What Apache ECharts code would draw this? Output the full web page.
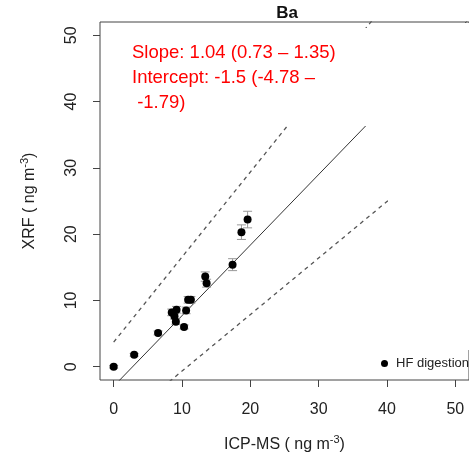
<!DOCTYPE html>
<html>
<head>
<meta charset="utf-8">
<script src="https://cdn.jsdelivr.net/npm/echarts@6/dist/echarts.min.js"></script>
<style>html,body{margin:0;padding:0;background:#fff;}#c{width:469px;height:459px;}</style>
</head>
<body>
<div id="c"></div>
<script>
// ---- data ----
const xTicks = [0, 10, 20, 30, 40, 50];
const yTicks = [0, 10, 20, 30, 40, 50];
const icpms = [0.0, 3.0, 6.5, 8.5, 9.2, 8.9, 9.1, 10.3, 10.6, 10.9, 11.3, 13.4, 13.6, 17.4, 18.7, 19.6];
const xrf   = [0.0, 1.8, 5.1, 8.2, 8.6, 7.6, 6.8, 6.0, 8.5, 10.1, 10.1, 13.6, 12.6, 15.4, 20.3, 22.2];
const xrfErr= [0.2, 0.2, 0.3, 0.5, 0.5, 0.4, 0.4, 0.3, 0.5, 0.5, 0.5, 0.7, 0.6, 0.9, 1.1, 1.25];
const fitLine   = [1.065, -2.95];   // slope, intercept (solid)
const upperBand = [1.283, 3.71];    // dashed
const lowerBand = [0.853, -9.19];   // dashed
const lineX = [0, 52];
const annotation = ['Slope: 1.04 (0.73 \u2013 1.35)', 'Intercept: -1.5 (-4.78 \u2013', ' -1.79)'];

const FONT = '"Liberation Sans", Arial, sans-serif';
function lineData(p){ return lineX.map(x => [x, p[0]*x + p[1]]); }

const chart = echarts.init(document.getElementById('c'), null, {renderer:'canvas'});
const option = {
  animation: false,
  backgroundColor: '#fff',
  title: {
    text: 'Ba', left: 287, top: 5, textAlign: 'center', padding: 0,
    textStyle: {fontSize: 17, fontWeight: 'bold', color: '#111', fontFamily: FONT}
  },
  legend: {
    data: ['HF digestion'], left: 381, top: 357, icon: 'circle',
    itemWidth: 7, itemHeight: 7, itemGap: 4, selectedMode: false, padding: 0,
    textStyle: {fontSize: 13, color: '#222', fontFamily: FONT, padding: [0,0,0,3]}
  },
  grid: {left: 100, top: 22, bottom: 79, right: -7, show: true, borderColor: '#444', borderWidth: 1, containLabel: false},
  xAxis: {
    type: 'value', min: -2, max: 52,
    name: 'ICP-MS ( ng m{sup|-3})', nameLocation: 'middle', nameGap: 54,
    nameTextStyle: {fontSize: 16, color: '#222', fontFamily: FONT,
      rich: {sup: {fontSize: 11, color: '#222', fontFamily: FONT, padding: [0,0,10,0]}}},
    axisLine: {show: false, onZero: false},
    axisTick: {show: true, inside: false, length: 7, lineStyle: {color: '#444'}, customValues: xTicks},
    axisLabel: {fontSize: 16, color: '#222', fontFamily: FONT, margin: 22, customValues: xTicks},
    splitLine: {show: false}
  },
  yAxis: {
    type: 'value', min: -2, max: 52,
    name: 'XRF ( ng m{sup|-3})', nameLocation: 'middle', nameGap: 60, nameRotate: 90,
    nameTextStyle: {fontSize: 16, color: '#222', fontFamily: FONT,
      rich: {sup: {fontSize: 11, color: '#222', fontFamily: FONT, padding: [0,0,10,0]}}},
    axisLine: {show: false, onZero: false},
    axisTick: {show: true, inside: false, length: 7, lineStyle: {color: '#444'}, customValues: yTicks},
    axisLabel: {fontSize: 16, color: '#222', fontFamily: FONT, margin: 20, rotate: 90, customValues: yTicks},
    splitLine: {show: false}
  },
  series: [
    {type: 'line', data: lineData(fitLine), showSymbol: false, symbol: 'none', silent: true,
     lineStyle: {color: '#333', width: 1}, z: 1, clip: true},
    {type: 'line', data: lineData(upperBand), showSymbol: false, symbol: 'none', silent: true,
     lineStyle: {color: '#555', width: 1.3, type: [4, 4]}, z: 1, clip: true},
    {type: 'line', data: lineData(lowerBand), showSymbol: false, symbol: 'none', silent: true,
     lineStyle: {color: '#555', width: 1.3, type: [4, 4]}, z: 1, clip: true},
    {type: 'custom', silent: true, z: 2,
     data: icpms.map((x, i) => [x, xrf[i], xrfErr[i]]),
     renderItem: function(params, api){
       const x = api.value(0), y = api.value(1), e = api.value(2);
       const a = api.coord([x, y - e]), b = api.coord([x, y + e]);
       const w = 4.5, st = {stroke: '#999', lineWidth: 1};
       return {type: 'group', children: [
         {type: 'line', shape: {x1: a[0], y1: a[1], x2: b[0], y2: b[1]}, style: st},
         {type: 'line', shape: {x1: a[0]-w, y1: a[1], x2: a[0]+w, y2: a[1]}, style: st},
         {type: 'line', shape: {x1: b[0]-w, y1: b[1], x2: b[0]+w, y2: b[1]}, style: st}
       ]};
     }},
    {type: 'scatter', name: 'HF digestion', data: icpms.map((x, i) => [x, xrf[i]]),
     symbol: 'circle', symbolSize: 8, itemStyle: {color: '#000', opacity: 1}, z: 3}
  ],
  graphic: [
    {type: 'rect', left: 101, top: 28, z: 100, shape: {width: 287, height: 98}, style: {fill: '#fff'}},
    {type: 'rect', left: 388, top: 23, z: 100, shape: {width: 90, height: 327}, style: {fill: '#fff'}},
    {type: 'text', x: 132, y: 53, z: 101, style: {text: annotation[0], fill: '#ff0000', fontSize: 18.5, fontFamily: FONT, verticalAlign: 'middle'}},
    {type: 'text', x: 132, y: 78, z: 101, style: {text: annotation[1], fill: '#ff0000', fontSize: 18.5, fontFamily: FONT, verticalAlign: 'middle'}},
    {type: 'text', x: 132, y: 103, z: 101, style: {text: annotation[2], fill: '#ff0000', fontSize: 18.5, fontFamily: FONT, verticalAlign: 'middle'}}
  ]
};
chart.setOption(option);
</script>
</body>
</html>
